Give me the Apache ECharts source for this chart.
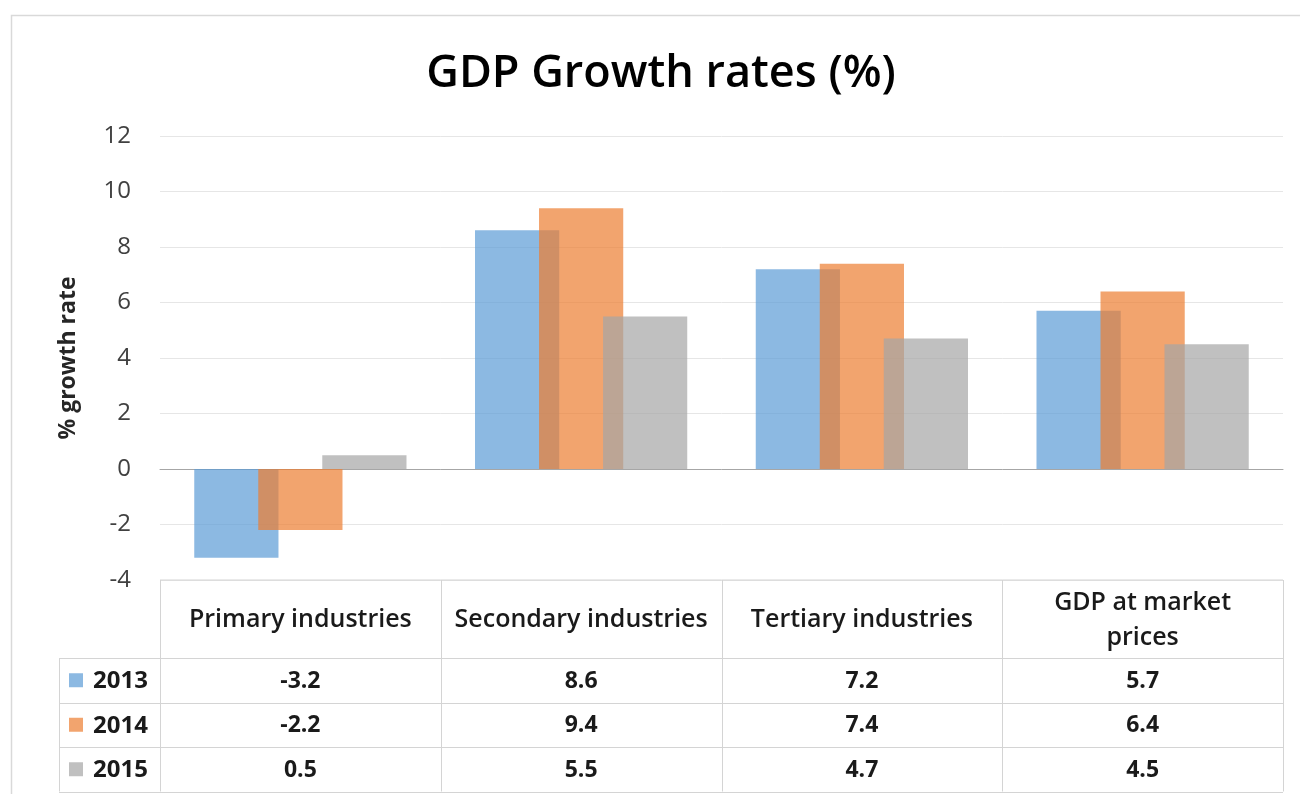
<!DOCTYPE html>
<html>
<head>
<meta charset="utf-8">
<script src="https://cdn.jsdelivr.net/npm/echarts@6/dist/echarts.min.js"></script>
<style>
  html, body { margin: 0; padding: 0; background: #ffffff; }
  #chart { width: 1300px; height: 794px; }
</style>
</head>
<body>
<div id="chart"></div>
<script>
// ---- data ----
const categories = ['Primary industries', 'Secondary industries', 'Tertiary industries', 'GDP at market prices'];
const headerLabels = ['Primary industries', 'Secondary industries', 'Tertiary industries', 'GDP at market\nprices'];
const years = ['2013', '2014', '2015'];
const values2013 = [-3.2, 8.6, 7.2, 5.7];
const values2014 = [-2.2, 9.4, 7.4, 6.4];
const values2015 = [0.5, 5.5, 4.7, 4.5];
const yTicks = [-4, -2, 0, 2, 4, 6, 8, 10, 12];

// ---- styles ----
const FONT = '"Open Sans", "Noto Sans", sans-serif';
const colors = ['#5B9BD5', '#ED7D31', '#A5A5A5'];
const BAR_OPACITY = 0.7;
const seriesValues = [values2013, values2014, values2015];

const chart = echarts.init(document.getElementById('chart'), null, { renderer: 'canvas' });

const option = {
  animation: false,
  backgroundColor: '#ffffff',
  title: {
    text: 'GDP Growth rates (%)',
    left: 656,
    top: 47,
    textAlign: 'center',
    textStyle: { fontFamily: FONT, fontSize: 45, fontWeight: 600, color: '#000000' }
  },
  grid: { left: 160, right: 17, top: 136, bottom: 214, containLabel: false },
  xAxis: {
    type: 'category',
    data: categories,
    axisLine: { onZero: true, lineStyle: { color: '#A6A6A6', width: 1 } },
    axisTick: { show: false },
    axisLabel: { show: false },
    splitLine: { show: false }
  },
  yAxis: {
    type: 'value',
    min: yTicks[0],
    max: yTicks[yTicks.length - 1],
    interval: 2,
    name: '% growth rate',
    nameLocation: 'middle',
    nameRotate: 90,
    nameGap: 80,
    nameTextStyle: { fontFamily: FONT, fontSize: 23, fontWeight: 'bold', color: '#262626' },
    axisLine: { show: false },
    axisTick: { show: false },
    axisLabel: { fontFamily: FONT, fontSize: 24, color: '#404040', margin: 29 },
    splitLine: { lineStyle: { color: '#E6E6E6', width: 1 } }
  },
  series: years.map((y, i) => ({
    name: y,
    type: 'bar',
    data: seriesValues[i],
    barWidth: '30%',
    barGap: '-24%',
    itemStyle: { color: colors[i], opacity: BAR_OPACITY },
    emphasis: { disabled: true }
  }))
};

chart.setOption(option);

// ---- data table built from the chart's own axes ----
function buildTable() {
  const c0 = chart.convertToPixel({ gridIndex: 0 }, [0, yTicks[0]]);
  const c1 = chart.convertToPixel({ gridIndex: 0 }, [1, yTicks[0]]);
  const band = c1[0] - c0[0];
  const top = c0[1];
  const headerH = 78;
  const rowH = 44.5;
  const legendLeft = 59;
  const n = categories.length;
  const left = c0[0] - band / 2;
  const right = left + band * n;
  const headerBottom = top + headerH;
  const bottom = headerBottom + rowH * years.length;
  const lineStyle = { stroke: '#D4D4D4', lineWidth: 1 };
  const g = [];

  // outer chart-area border
  g.push({ type: 'rect', shape: { x: 11.5, y: 15.5, width: 1400, height: 900 },
    style: { fill: null, stroke: '#D9D9D9', lineWidth: 1.5 }, z: 0 });

  // horizontal lines
  g.push({ type: 'line', shape: { x1: left, y1: top, x2: right, y2: top }, style: lineStyle });
  for (let r = 0; r <= years.length; r++) {
    const yy = Math.round(headerBottom + rowH * r) + 0.5;
    g.push({ type: 'line', shape: { x1: legendLeft, y1: yy, x2: right, y2: yy }, style: lineStyle });
  }
  // vertical lines
  for (let k = 0; k <= n; k++) {
    const xx = Math.round(left + band * k) + 0.5;
    g.push({ type: 'line', shape: { x1: xx, y1: top, x2: xx, y2: bottom }, style: lineStyle });
  }
  g.push({ type: 'line', shape: { x1: legendLeft + 0.5, y1: headerBottom, x2: legendLeft + 0.5, y2: bottom }, style: lineStyle });

  // header labels
  for (let k = 0; k < n; k++) {
    const cx = chart.convertToPixel({ gridIndex: 0 }, [k, 0])[0];
    g.push({ type: 'text', x: cx, y: top + headerH / 2 + 1,
      style: { text: headerLabels[k], fontFamily: FONT, fontSize: 25, fontWeight: 600, fill: '#1a1a1a',
        align: 'center', verticalAlign: 'middle', lineHeight: 35 } });
  }
  // rows
  for (let r = 0; r < years.length; r++) {
    const cy = headerBottom + rowH * r + rowH / 2;
    g.push({ type: 'rect', shape: { x: 69, y: cy - 7, width: 14, height: 14 },
      style: { fill: colors[r], opacity: BAR_OPACITY } });
    g.push({ type: 'text', x: 93, y: cy + 1,
      style: { text: years[r], fontFamily: FONT, fontSize: 24, fontWeight: 'bold', fill: '#1a1a1a',
        align: 'left', verticalAlign: 'middle' } });
    for (let k = 0; k < n; k++) {
      const cx = chart.convertToPixel({ gridIndex: 0 }, [k, 0])[0];
      g.push({ type: 'text', x: cx, y: cy + 1,
        style: { text: String(seriesValues[r][k]), fontFamily: FONT, fontSize: 23, fontWeight: 'bold',
          fill: '#1a1a1a', align: 'center', verticalAlign: 'middle' } });
    }
  }
  chart.setOption({ graphic: g.map(e => Object.assign({ silent: true }, e)) });
}
buildTable();
</script>
</body>
</html>
